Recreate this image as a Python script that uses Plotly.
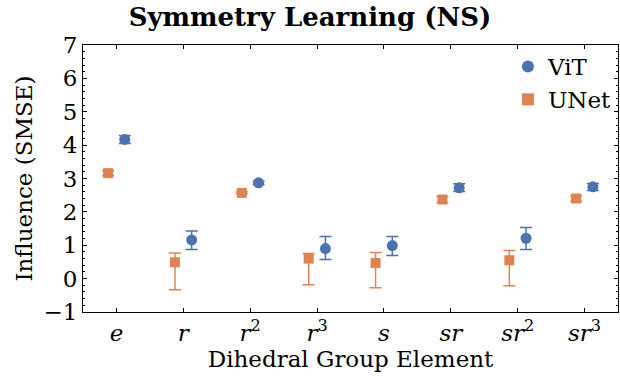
import plotly.graph_objects as go

# Dihedral group elements on the x axis
categories = ["e", "r", "r^2", "r^3", "s", "sr", "sr^2", "sr^3"]
tick_labels = ["<i>e</i>", "<i>r</i>", "<i>r</i><sup>2</sup>", "<i>r</i><sup>3</sup>",
               "<i>s</i>", "<i>sr</i>", "<i>sr</i><sup>2</sup>", "<i>sr</i><sup>3</sup>"]

# ViT influence (SMSE) with error bars
vit_mean = [4.17, 1.16, 2.87, 0.90, 0.99, 2.72, 1.21, 2.75]
vit_err_up = [0.12, 0.27, 0.05, 0.36, 0.27, 0.12, 0.32, 0.10]
vit_err_down = [0.12, 0.29, 0.05, 0.33, 0.30, 0.11, 0.34, 0.11]

# UNet influence (SMSE) with error bars
unet_mean = [3.16, 0.49, 2.57, 0.60, 0.47, 2.37, 0.55, 2.40]
unet_err_up = [0.07, 0.28, 0.03, 0.15, 0.31, 0.09, 0.29, 0.08]
unet_err_down = [0.07, 0.82, 0.03, 0.78, 0.74, 0.09, 0.76, 0.08]

BLUE = "#4C72B0"
ORANGE = "#DD8452"
FONT = "DejaVu Serif"
OFFSET = 0.125


def serif(size):
    return dict(family=FONT, size=size, color="black")


idx = list(range(len(categories)))

fig = go.Figure()
fig.add_trace(go.Scatter(
    x=[i + OFFSET for i in idx], y=vit_mean, mode="markers", name="ViT",
    marker=dict(symbol="circle", size=11, color=BLUE),
    error_y=dict(type="data", symmetric=False, array=vit_err_up,
                 arrayminus=vit_err_down, color=BLUE, thickness=1.5, width=6),
))
fig.add_trace(go.Scatter(
    x=[i - OFFSET for i in idx], y=unet_mean, mode="markers", name="UNet",
    marker=dict(symbol="square", size=10, color=ORANGE),
    error_y=dict(type="data", symmetric=False, array=unet_err_up,
                 arrayminus=unet_err_down, color=ORANGE, thickness=1.5, width=6),
))

fig.update_layout(
    width=620, height=377,
    margin=dict(l=83, r=2, t=45, b=65),
    paper_bgcolor="white", plot_bgcolor="white",
    font=serif(22),
    title=dict(text="<b>Symmetry Learning (NS)</b>", x=0.5, xanchor="center",
               y=0.978, yanchor="top", font=serif(26)),
    legend=dict(x=0.998, y=1.0, xanchor="right", yanchor="top",
                bgcolor="rgba(0,0,0,0)", font=serif(23),
                itemsizing="constant", tracegroupgap=0),
    showlegend=True,
)
fig.update_xaxes(
    range=[-0.5, 7.5], tickmode="array", tickvals=idx, ticktext=tick_labels,
    showline=True, linecolor="black", linewidth=1, mirror="ticks",
    ticks="inside", ticklen=4, tickcolor="black", showgrid=False, zeroline=False,
    tickfont=serif(23),
    title=dict(text="Dihedral Group Element", font=serif(23), standoff=4),
)
fig.update_yaxes(
    range=[-1, 7], tickmode="linear", tick0=0, dtick=1,
    showline=True, linecolor="black", linewidth=1, mirror="ticks",
    ticks="inside", ticklen=4, tickcolor="black", showgrid=False, zeroline=False,
    minor=dict(ticks="inside", dtick=0.2, ticklen=2, tickcolor="black", showgrid=False),
    tickfont=serif(23),
    title=dict(text="Influence (SMSE)", font=serif(23), standoff=4),
)

fig.write_html("out.html")
